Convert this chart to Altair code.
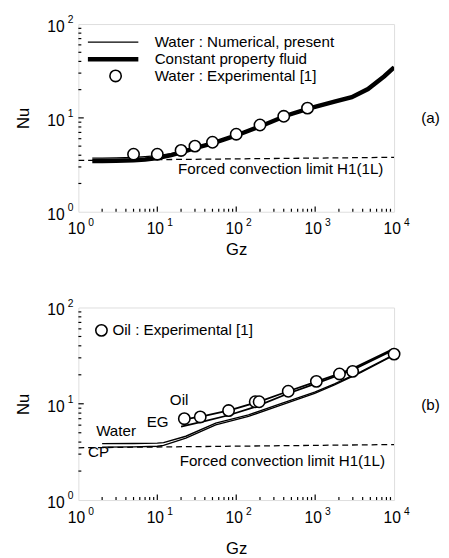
import altair as alt
import pandas as pd

FONT = "Liberation Sans"

# ---------------- Panel (a) ----------------
a_gz_line = [1.5, 2, 3, 5, 7, 10, 15, 20, 30, 50, 100, 200, 434, 844, 1807, 2910, 4670, 7520, 10000]
a_nu_water_num = [3.72, 3.72, 3.74, 3.8, 3.87, 3.97, 4.15, 4.4, 4.8, 5.4, 6.6, 8.2, 10.7, 12.7, 15.1, 16.7, 20.4, 27.9, 34.8]
a_nu_cp = [3.46, 3.47, 3.49, 3.53, 3.6, 3.72, 4.0, 4.3, 4.75, 5.35, 6.5, 8.1, 10.6, 12.6, 15.0, 16.6, 20.3, 27.8, 34.6]
a_gz_exp = [5, 10, 20, 30, 50, 100, 200, 400, 800]
a_nu_exp = [4.1, 4.1, 4.5, 5.0, 5.5, 6.7, 8.4, 10.4, 12.7]
a_limit_gz = [1, 10000]
a_limit_nu = [3.52, 3.8]

# ---------------- Panel (b) ----------------
b_gz_water = [2, 5, 10, 12, 23, 55, 143, 376, 986, 1758, 3812, 10000]
b_nu_water = [3.85, 3.87, 3.9, 3.95, 4.6, 6.3, 7.67, 10.1, 13.2, 16.1, 21.6, 32.5]
b_nu_cp = [3.55, 3.57, 3.62, 3.7, 4.4, 6.05, 7.4, 9.75, 12.8, 15.7, 21.2, 32.0]
b_gz_eg = [20, 40, 80, 174, 456, 1036, 2985, 10000]
b_nu_eg = [5.8, 6.6, 7.6, 9.3, 12.8, 16.3, 22.4, 36.5]
b_gz_oil = [20, 37, 84, 200, 456, 1036, 2033, 2985, 10000]
b_nu_oil = [6.8, 7.4, 8.6, 10.6, 13.5, 17.0, 20.6, 23.2, 37.5]
b_gz_exp = [22, 35, 80, 174, 195, 456, 1036, 2033, 2985, 10000]
b_nu_exp = [7.0, 7.3, 8.5, 10.5, 10.5, 13.5, 17.1, 20.4, 21.7, 32.8]
b_limit_gz = [1, 10000]
b_limit_nu = [3.49, 3.77]

# ---------------- Text ----------------
limit_text = "Forced convection limit H1(1L)"
a_legend_text = ["Water : Numerical, present", "Constant property fluid", "Water : Experimental [1]"]
a_legend_nu = [64.2, 42.2, 28.0]
a_legend_text_gz = 9.25
a_legend_line_gz = [1.32, 5.75]
a_legend_circle_gz = 2.96
b_curve_labels = ["Oil", "EG", "Water", "CP"]
b_curve_label_gz = [18.9, 10.1, 3.0, 1.8]
b_curve_label_nu = [10.9, 6.44, 5.15, 3.13]
b_legend_text = "Oil : Experimental [1]"

x_tick_vals = [1, 10, 100, 1000, 10000]
x_tick_exp = ["0", "1", "2", "3", "4"]
y_tick_vals = [1, 10, 100]
y_tick_exp = ["0", "1", "2"]

W = 323
TXT = 15.5

xs = alt.Scale(type="log", domain=[1, 10000], nice=False)
ys = alt.Scale(type="log", domain=[1, 100], nice=False)


def make_enc(x_title_pad):
    X = alt.X("gz:Q", scale=xs, axis=alt.Axis(title="Gz", labels=False, ticks=False, domain=False, grid=False,
                                              titleFont=FONT, titleFontSize=17, titleFontWeight="normal",
                                              titleColor="black", titlePadding=x_title_pad))
    Y = alt.Y("nu:Q", scale=ys, axis=alt.Axis(title="Nu", labels=False, ticks=False, domain=False, grid=False,
                                              titleFont=FONT, titleFontSize=17, titleFontWeight="normal",
                                              titleColor="black", titlePadding=47))
    return X, Y


def df(gz, nu, **extra):
    d = pd.DataFrame({"gz": gz, "nu": nu})
    for k, v in extra.items():
        d[k] = v
    return d


def build_panel(X, Y, height, layers_fn):
    def line(gz, nu, width, dash=None):
        kw = dict(color="black", strokeWidth=width, clip=True)
        if dash:
            kw["strokeDash"] = dash
        return alt.Chart(df(gz, nu)).mark_line(**kw).encode(x=X, y=Y)

    def circles(gz, nu):
        return alt.Chart(df(gz, nu)).mark_point(shape="circle", size=135, filled=True, fill="white",
                                                stroke="black", strokeWidth=1.6, opacity=1).encode(x=X, y=Y)

    def texts(gz, nu, labels, align="center", size=TXT, dx=0, dy=0):
        return alt.Chart(df(gz, nu, label=labels)).mark_text(
            font=FONT, fontSize=size, color="black", align=align, baseline="middle", dx=dx, dy=dy
        ).encode(x=X, y=Y, text="label:N")

    # inward frame ticks (drawn as short rules in data units)
    minors_x = [m * 10 ** e for e in range(4) for m in range(2, 10)]
    minors_y = [m * 10 ** e for e in range(2) for m in range(2, 10)]
    bx = df(minors_x + [10, 100, 1000], [1] * (len(minors_x) + 3),
            nu2=[1.075] * len(minors_x) + [1.14] * 3)
    ly = df([1] * (len(minors_y) + 1), minors_y + [10],
            gz2=[1.09] * len(minors_y) + [1.17])
    rule_kw = dict(color="black", strokeWidth=1.2)
    ticks_b = alt.Chart(bx).mark_rule(**rule_kw).encode(x=X, y=Y, y2=alt.Y2("nu2:Q"))
    ticks_l = alt.Chart(ly).mark_rule(**rule_kw).encode(x=X, x2=alt.X2("gz2:Q"), y=Y)

    # tick labels 10^n
    xb = texts(x_tick_vals, [1] * 5, ["10"] * 5, size=16, dx=-2, dy=18)
    xe = texts(x_tick_vals, [1] * 5, x_tick_exp, size=10.5, dx=13, dy=12)
    yb = texts([1] * 3, y_tick_vals, ["10"] * 3, size=16, dx=-23, dy=3)
    ye = texts([1] * 3, y_tick_vals, y_tick_exp, size=10.5, dx=-8, dy=-4)

    layers = [ticks_b, ticks_l, xb, xe, yb, ye] + layers_fn(line, circles, texts)
    return alt.layer(*layers).properties(width=W, height=height)


def layers_a(line, circles, texts):
    return [
        line(a_limit_gz, a_limit_nu, 1.3, dash=[6, 4]),
        line(a_gz_line, a_nu_cp, 4.5),
        line(a_gz_line, a_nu_water_num, 1.3),
        circles(a_gz_exp, a_nu_exp),
        line(a_legend_line_gz, [a_legend_nu[0]] * 2, 1.3),
        line(a_legend_line_gz, [a_legend_nu[1]] * 2, 4.5),
        circles([a_legend_circle_gz], [a_legend_nu[2]]),
        texts([a_legend_text_gz] * 3, a_legend_nu, a_legend_text, align="left"),
        texts([366], [2.82], [limit_text]),
        texts([29000], [10], ["(a)"]),
    ]


def layers_b(line, circles, texts):
    return [
        line(b_limit_gz, b_limit_nu, 1.3, dash=[6, 4]),
        line(b_gz_water, b_nu_cp, 1.4),
        line(b_gz_water, b_nu_water, 1.4),
        line(b_gz_eg, b_nu_eg, 1.8),
        line(b_gz_oil, b_nu_oil, 1.8),
        circles(b_gz_exp, b_nu_exp),
        circles([1.96], [57.9]),
        texts([2.7], [57.9], [b_legend_text], align="left"),
        texts(b_curve_label_gz, b_curve_label_nu, b_curve_labels),
        texts([384], [2.55], [limit_text]),
        texts([29000], [9.6], ["(b)"]),
    ]


Xa, Ya = make_enc(31)
Xb, Yb = make_enc(42)
panel_a = build_panel(Xa, Ya, 192, layers_a)
panel_b = build_panel(Xb, Yb, 197, layers_b)

chart = alt.vconcat(panel_a, panel_b, spacing=40).properties(
    padding={"left": 6, "top": 0, "right": 0, "bottom": 0}
).configure_view(stroke="black", strokeWidth=1.5).configure(background="white")

chart.save("out.html", embed_options={"renderer": "svg", "actions": False})
